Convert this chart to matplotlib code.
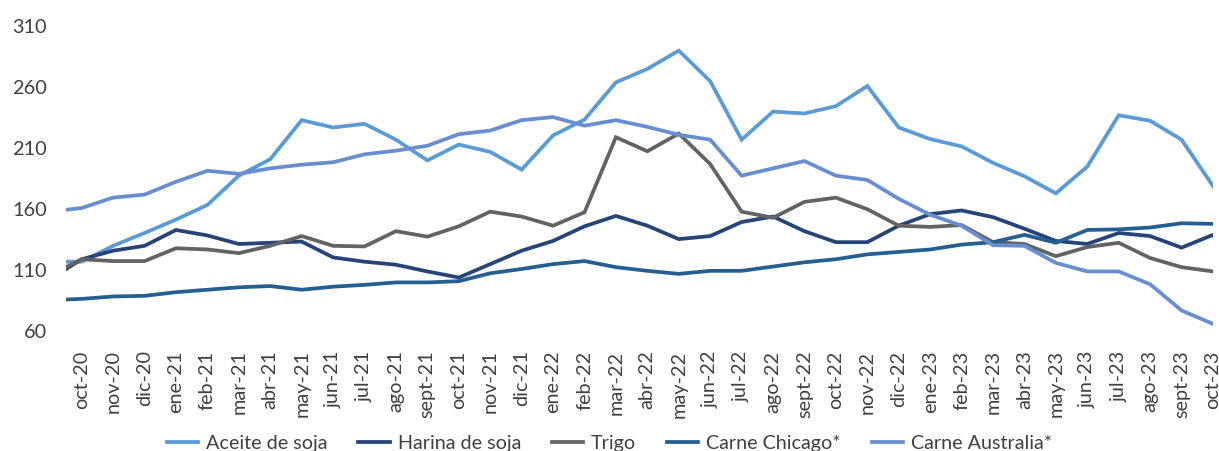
import numpy as np
import matplotlib
matplotlib.use("Agg")
import matplotlib.pyplot as plt

plt.rcParams['font.family'] = ['Lato', 'DejaVu Sans']

meses = ['oct-20', 'nov-20', 'dic-20', 'ene-21', 'feb-21', 'mar-21', 'abr-21', 'may-21',
         'jun-21', 'jul-21', 'ago-21', 'sept-21', 'oct-21', 'nov-21', 'dic-21', 'ene-22',
         'feb-22', 'mar-22', 'abr-22', 'may-22', 'jun-22', 'jul-22', 'ago-22', 'sept-22',
         'oct-22', 'nov-22', 'dic-22', 'ene-23', 'feb-23', 'mar-23', 'abr-23', 'may-23',
         'jun-23', 'jul-23', 'ago-23', 'sept-23', 'oct-23']

# el primer dato de cada serie cae a mitad de mes antes de oct-20
aceite = [116, 116, 129, 139.5, 150.5, 162.5, 186.5, 200, 232, 226, 229, 216, 199, 212,
          206, 191.5, 219.5, 232.5, 263, 274, 289, 264, 216, 239, 237.5, 243.5, 260, 226,
          216.5, 210.5, 197, 186, 172, 194, 236, 231.5, 216, 178]
harina = [110, 118, 125, 129, 142, 137.5, 130.5, 131.5, 132.5, 119.5, 116, 113.5, 108, 103,
          114, 125, 133, 145, 153.5, 145.5, 134.5, 137, 148.5, 153, 141, 132, 132, 145.5,
          155, 158, 152.5, 143, 133, 130.5, 139.5, 137, 127.5, 138]
trigo = [111.5, 118, 116.5, 116.5, 127, 126, 123, 129, 137, 129, 128.5, 141, 136.5, 145,
         157, 153, 145.5, 156.5, 218, 206.5, 221, 196, 157, 152, 165, 168.5, 159, 145.5,
         144.5, 146, 132, 130.5, 120.5, 128, 131.5, 119, 111.5, 108]
chicago = [85, 85.5, 87.5, 88, 91, 93, 95, 96, 93, 95.5, 97, 99, 99, 100, 106.5, 110, 114,
           116.5, 111.5, 108.5, 106, 108.5, 108.5, 112, 115.5, 118, 122, 124, 126, 130, 132,
           138, 131.5, 142, 142.5, 144, 147.5, 147]
australia = [158.5, 160, 168.5, 171, 181.5, 190.5, 188, 192.5, 195.5, 197.5, 204, 207, 211,
             220.5, 223.5, 232, 234.5, 227.5, 232, 226.5, 220, 216, 186.5, 192.5, 198.5,
             186.5, 183, 167.5, 154.5, 145.5, 129.5, 129, 115, 108, 108, 97.5, 76, 65]

x = np.r_[-0.5, np.arange(len(meses))]

series = [
    ('Aceite de soja', aceite, '#5B9BD5'),
    ('Harina de soja', harina, '#264478'),
    ('Trigo', trigo, '#636363'),
    ('Carne Chicago*', chicago, '#255E91'),
    ('Carne Australia*', australia, '#698ED0'),
]

fig = plt.figure(figsize=(12.19, 4.52), dpi=100)
ax = fig.add_axes([66 / 1219, 1 - 331 / 452, (1213 - 66) / 1219, (331 - 26) / 452])

for nombre, valores, color in series:
    ax.plot(x, valores, color=color, lw=2.7, label=nombre, solid_joinstyle='miter')

ax.set_xlim(-0.5, len(meses) - 1)
ax.set_ylim(60, 310)
ax.set_yticks(np.arange(60, 311, 50))
ax.set_xticks(np.arange(len(meses)))
ax.set_xticklabels(meses, rotation=90)

for s in ax.spines.values():
    s.set_visible(False)
ax.tick_params(length=0, colors='#404040', labelsize=14.3)
ax.tick_params(axis='y', pad=14)
ax.tick_params(axis='x', pad=14)

leg = fig.legend(loc='center', bbox_to_anchor=(0.5, 1 - 444 / 452), ncol=5,
                 frameon=False, fontsize=14.2, handlelength=1.6, handletextpad=0.4,
                 columnspacing=1.55)
for t in leg.get_texts():
    t.set_color('#404040')

fig.savefig('out.png', dpi=100)
